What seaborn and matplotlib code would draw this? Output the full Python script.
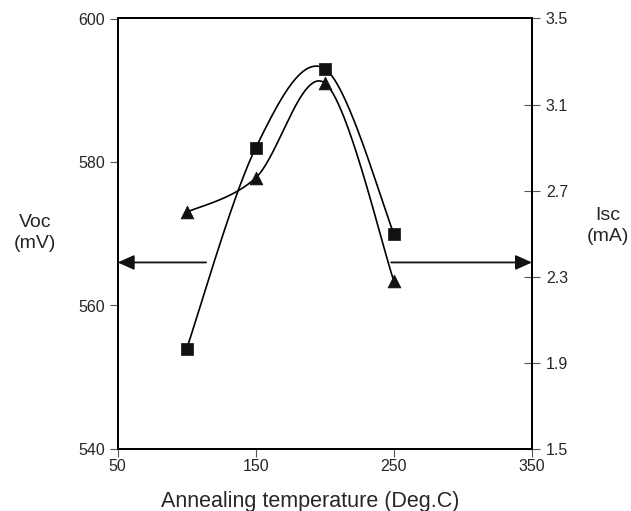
import numpy as np
import matplotlib
matplotlib.use("Agg")
import matplotlib.pyplot as plt
import seaborn as sns
import pandas as pd

# ---- data ----
temperature = [100, 150, 200, 250]
voc_mv = [554, 582, 593, 570]          # squares, left axis
isc_ma = [2.60, 2.76, 3.20, 2.28]      # triangles, right axis
x_ticks = [50, 150, 250, 350]
voc_ticks = [540, 560, 580, 600]
isc_ticks = [1.5, 1.9, 2.3, 2.7, 3.1, 3.5]

sns.set_style("white")
plt.rcParams['font.family'] = ['Liberation Sans', 'DejaVu Sans']

W_PX, H_PX = 631, 511
fig = plt.figure(figsize=(W_PX / 100, H_PX / 100), dpi=100)
L, R, T, B = 117.7, 532.0, 18.5, 449.0
ax = fig.add_axes([L / W_PX, 1 - B / H_PX, (R - L) / W_PX, (B - T) / H_PX])
ax2 = ax.twinx()

xlim = (50, 350)
ylim1 = (540, 600)
ylim2 = (1.5, 3.5)
ax.set_xlim(*xlim)
ax.set_ylim(*ylim1)
ax2.set_ylim(*ylim2)


def smooth(xs, ys, yl, n=60):
    """Excel-like smoothed line (Catmull-Rom Bezier) computed in pixel space."""
    w, h = R - L, B - T
    px = (np.asarray(xs, float) - xlim[0]) / (xlim[1] - xlim[0]) * w
    py = (np.asarray(ys, float) - yl[0]) / (yl[1] - yl[0]) * h
    P = np.column_stack([px, py])
    Pe = np.vstack([P[0], P, P[-1]])
    out = []
    t = np.linspace(0, 1, n)[:, None]
    for i in range(len(P) - 1):
        p0, p1, p2, p3 = Pe[i], Pe[i + 1], Pe[i + 2], Pe[i + 3]
        c1 = p1 + (p2 - p0) / 6
        c2 = p2 - (p3 - p1) / 6
        seg = ((1 - t) ** 3) * p1 + 3 * ((1 - t) ** 2) * t * c1 + 3 * (1 - t) * t ** 2 * c2 + t ** 3 * p2
        out.append(seg)
    S = np.vstack(out)
    sx = S[:, 0] / w * (xlim[1] - xlim[0]) + xlim[0]
    sy = S[:, 1] / h * (yl[1] - yl[0]) + yl[0]
    return sx, sy


sx, sy = smooth(temperature, voc_mv, ylim1)
ax.plot(sx, sy, color="black", lw=1.2, zorder=3)
sx2, sy2 = smooth(temperature, isc_ma, ylim2)
ax2.plot(sx2, sy2, color="black", lw=1.2, zorder=3)

df1 = pd.DataFrame({"T": temperature, "Voc": voc_mv})
df2 = pd.DataFrame({"T": temperature, "Isc": isc_ma})
sns.scatterplot(data=df1, x="T", y="Voc", ax=ax, marker="s", s=70, color="#111111",
                edgecolor="#111111", linewidth=0.5, zorder=4, legend=False)
sns.scatterplot(data=df2, x="T", y="Isc", ax=ax2, marker="^", s=85, color="#111111",
                edgecolor="#111111", linewidth=0.5, zorder=4, legend=False)

ax.set_xticks(x_ticks)
ax.set_yticks(voc_ticks)
ax2.set_yticks(isc_ticks)
ax2.set_yticklabels([f"{v:.1f}" for v in isc_ticks])
ax.set_xlabel("")
ax.set_ylabel("")
ax2.set_ylabel("")

for a in (ax, ax2):
    for s in a.spines.values():
        s.set_color("black")
        s.set_linewidth(1.4)

ax.tick_params(axis="x", direction="out", length=6, width=0.8, color="#555555",
               labelsize=11.5, pad=1, bottom=True)
ax.tick_params(axis="y", direction="out", length=6, width=0.8, color="#555555",
               labelsize=11.5, pad=3, left=True)
ax2.tick_params(axis="y", direction="inout", length=12, width=0.8, color="#555555",
                labelsize=11.5, pad=4, right=True)

# arrows indicating which axis each curve belongs to
arrow_y = 566
ax.annotate("", xy=(50, arrow_y), xytext=(114, arrow_y),
            arrowprops=dict(arrowstyle="-|>,head_length=1.0,head_width=0.45",
                            color="#111111", lw=1.3, shrinkA=0, shrinkB=0))
ax.annotate("", xy=(350, arrow_y), xytext=(248, arrow_y),
            arrowprops=dict(arrowstyle="-|>,head_length=1.0,head_width=0.45",
                            color="#111111", lw=1.3, shrinkA=0, shrinkB=0))

fig.text(35 / W_PX, 1 - 233 / H_PX, "Voc\n(mV)", ha="center", va="center",
         fontsize=14, linespacing=1.25)
fig.text(608 / W_PX, 1 - 226 / H_PX, "Isc\n(mA)", ha="center", va="center",
         fontsize=14, linespacing=1.25)
fig.text(310 / W_PX, 1 - 507 / H_PX, "Annealing temperature (Deg.C)", ha="center",
         va="baseline", fontsize=15.5)

fig.savefig("out.png", dpi=100)
